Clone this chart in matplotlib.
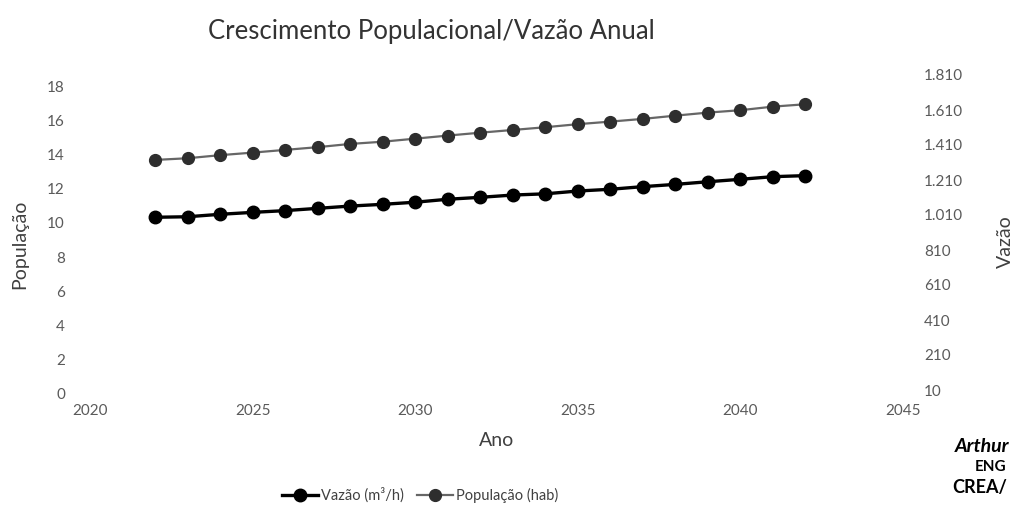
import numpy as np
import matplotlib
matplotlib.use("Agg")
import matplotlib.pyplot as plt
from matplotlib.lines import Line2D

plt.rcParams['font.family'] = ['Lato', 'DejaVu Sans']

# data
anos = list(range(2022, 2043))
populacao = [13.70, 13.80, 13.98, 14.13, 14.29, 14.45, 14.64, 14.77, 14.95, 15.13,
             15.30, 15.46, 15.62, 15.80, 15.95, 16.11, 16.30, 16.48, 16.62, 16.83, 16.97]
vazao = [997, 1000, 1014, 1025, 1035, 1048, 1061, 1071, 1083, 1100,
         1111, 1124, 1131, 1147, 1157, 1172, 1185, 1200, 1214, 1229, 1235]
x_ticks = [2020, 2025, 2030, 2035, 2040, 2045]
y_left_ticks = [0, 2, 4, 6, 8, 10, 12, 14, 16, 18]
y_right_ticks = [10, 210, 410, 610, 810, 1010, 1210, 1410, 1610, 1810]

W, H = 1016, 522
fig = plt.figure(figsize=(W / 100, H / 100), dpi=100)

def box(x0, x1, ytop, ybot):
    return [x0 / W, 1 - ybot / H, (x1 - x0) / W, (ybot - ytop) / H]

ax = fig.add_axes(box(90, 903, 86.7, 393.3))
ax2 = fig.add_axes(box(90, 903, 75, 390), sharex=ax)
ax2.patch.set_visible(False)

tick_col = '#5a5a5a'
for a in (ax, ax2):
    for s in a.spines.values():
        s.set_visible(False)
    a.tick_params(length=0, labelsize=11, labelcolor=tick_col)

ax.set_xlim(2020, 2045)
ax.set_xticks(x_ticks)
ax.set_ylim(0, 18)
ax.set_yticks(y_left_ticks)
ax.tick_params(axis='y', pad=18)
ax.tick_params(axis='x', pad=8)

ax2.set_ylim(10, 1810)
ax2.set_yticks(y_right_ticks)
ax2.set_yticklabels([f"{v:,}".replace(",", ".") for v in y_right_ticks])
ax2.yaxis.tick_right()
ax2.tick_params(axis='y', pad=15)
ax2.tick_params(axis='x', labelbottom=False)

ax.plot(anos, populacao, color='#666666', lw=1.6, marker='o', ms=8.5,
        mfc='#2e2e2e', mec='#2e2e2e', zorder=3)
ax2.plot(anos, vazao, color='#000000', lw=2.4, marker='o', ms=9,
         mfc='#000000', mec='#000000', zorder=3)

fig.text(431 / W, 1 - 31 / H, 'Crescimento Populacional/Vazão Anual',
         ha='center', va='center', fontsize=18.5, color='#333333')
fig.text(20 / W, 1 - 244 / H, 'População', rotation=90, ha='center', va='center',
         fontsize=14, color='#404040')
fig.text(1005 / W, 1 - 242 / H, 'Vazão', rotation=90, ha='center', va='center',
         fontsize=14, color='#404040')
fig.text(497 / W, 1 - 440 / H, 'Ano', ha='center', va='center',
         fontsize=14, color='#404040')

h1 = Line2D([], [], color='#000000', lw=2.4, marker='o', ms=9, mfc='#000000', mec='#000000')
h2 = Line2D([], [], color='#666666', lw=1.6, marker='o', ms=8.5, mfc='#2e2e2e', mec='#2e2e2e')
fig.legend([h1, h2], ['Vazão (m³/h)', 'População (hab)'], loc='center',
           bbox_to_anchor=(420 / W, 1 - 495 / H), ncol=2, frameon=False,
           fontsize=10.5, labelcolor='#404040', handlelength=2.5, columnspacing=0.9,
           handletextpad=0.2)

# signature stamp at the lower right
fig.text(955 / W, 1 - 446 / H, 'Arthur', fontsize=14, fontweight='bold',
         fontstyle='italic', ha='left', va='center', color='black')
fig.text(975 / W, 1 - 467 / H, 'ENG', fontsize=11, fontweight='bold',
         ha='left', va='center', color='black')
fig.text(952 / W, 1 - 487 / H, 'CREA/', fontsize=13, fontweight='bold',
         ha='left', va='center', color='black')

fig.savefig('out.png', dpi=100)
